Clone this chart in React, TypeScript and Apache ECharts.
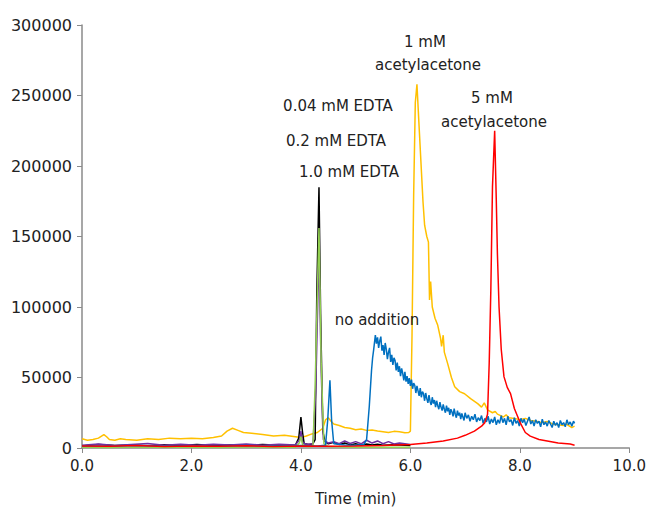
import React, { useEffect, useRef } from "react";
import * as echarts from "echarts";

const xTicks = ["0.0", "2.0", "4.0", "6.0", "8.0", "10.0"];
const yTicks = [0, 50000, 100000, 150000, 200000, 250000, 300000];

const blackTrace: [number, number][] = [
  [0, 1500], [0.3, 2400], [0.6, 1700], [0.9, 2200], [1.2, 1600], [1.5, 2300], [1.8, 1800],
  [2.1, 2500], [2.4, 1700], [2.7, 2200], [3.0, 1800], [3.3, 2400], [3.6, 1900], [3.9, 2100],
  [3.96, 7000], [4.0, 22000], [4.03, 11000], [4.06, 3000], [4.15, 2500], [4.22, 3000],
  [4.26, 6000], [4.29, 110000], [4.33, 185000], [4.36, 95000], [4.4, 12000], [4.44, 4500],
  [4.5, 3000], [4.6, 4000], [4.7, 2500], [4.8, 3500], [4.9, 2200], [5.0, 3000], [5.1, 2000],
  [5.2, 2800], [5.3, 2100], [5.4, 2600], [5.5, 1900], [5.7, 2300], [6.0, 1800],
];

const purpleTrace: [number, number][] = [
  [0, 2000], [0.3, 2800], [0.6, 1800], [0.9, 2500], [1.2, 3200], [1.5, 2000], [1.8, 2600],
  [2.1, 1900], [2.4, 2700], [2.7, 2100], [3.0, 2900], [3.3, 2000], [3.6, 2600], [3.9, 2200],
  [3.98, 6000], [4.0, 12000], [4.03, 4000], [4.1, 2500], [4.22, 3000], [4.27, 40000],
  [4.33, 140000], [4.37, 55000], [4.41, 6000], [4.5, 3500], [4.6, 4500], [4.7, 3000],
  [4.8, 5000], [4.9, 3200], [5.0, 4500], [5.1, 3000], [5.2, 5500], [5.3, 3500], [5.4, 5000],
  [5.5, 3000], [5.6, 4500], [5.7, 2800], [5.8, 3500], [6.0, 2500],
];

const greenTrace: [number, number][] = [
  [0, 600], [0.5, 400], [1.0, 700], [1.5, 500], [2.0, 600], [2.5, 400], [3.0, 700],
  [3.5, 500], [3.9, 600], [3.97, 3500], [4.0, 8000], [4.03, 2500], [4.1, 800], [4.22, 1000],
  [4.26, 45000], [4.33, 156000], [4.37, 60000], [4.42, 3000], [4.5, 1000], [4.7, 800],
  [5.0, 600], [5.5, 500], [6.0, 600],
];

const yellowTrace: [number, number][] = [
  [0.0, 6500], [0.1, 5500], [0.2, 6000], [0.3, 7000], [0.4, 9500], [0.45, 8000], [0.5, 6000],
  [0.6, 5500], [0.7, 6500], [0.8, 6000], [1.0, 5500], [1.2, 6500], [1.4, 6000], [1.6, 7000],
  [1.8, 6500], [2.0, 7000], [2.2, 6500], [2.4, 7500], [2.55, 8500], [2.65, 12000],
  [2.75, 14000], [2.85, 12500], [2.95, 11000], [3.1, 10500], [3.3, 9500], [3.5, 8500],
  [3.7, 9000], [3.9, 8000], [4.0, 7500], [4.1, 8500], [4.2, 10000], [4.3, 11000],
  [4.4, 14000], [4.45, 20000], [4.5, 21500], [4.55, 19000], [4.6, 17000], [4.7, 16000],
  [4.8, 14500], [4.9, 14000], [5.0, 13000], [5.1, 13500], [5.2, 12500], [5.3, 12800],
  [5.4, 12000], [5.5, 11500], [5.6, 11000], [5.7, 11800], [5.8, 11500], [5.9, 10800],
  [5.97, 11000], [6.0, 12000], [6.03, 80000], [6.06, 180000], [6.09, 245000], [6.12, 258000],
  [6.15, 235000], [6.19, 205000], [6.23, 175000], [6.26, 158000], [6.3, 150000],
  [6.33, 146000], [6.35, 105000], [6.37, 118000], [6.4, 100000], [6.45, 92000],
  [6.5, 87000], [6.55, 78000], [6.57, 72000], [6.6, 80000], [6.62, 68000], [6.68, 60000],
  [6.75, 50000], [6.81, 43500], [6.9, 40000], [6.99, 38500], [7.1, 35000], [7.23, 31500],
  [7.3, 29000], [7.35, 32000], [7.41, 27000], [7.5, 25000], [7.55, 26000], [7.59, 24000],
  [7.65, 23000], [7.7, 22000], [7.75, 23500], [7.8, 21500], [7.9, 21000], [8.0, 20000],
  [8.1, 21000], [8.2, 19500], [8.3, 19000], [8.4, 18000], [8.5, 18800], [8.6, 17000],
  [8.7, 16500], [8.8, 16000], [8.85, 17000], [8.95, 14500], [9.0, 15500],
];

const blueTrace: [number, number][] = [
  [0, 1500], [0.5, 1200], [1.0, 1700], [1.5, 1300], [2.0, 1600], [2.5, 1200], [3.0, 1700],
  [3.5, 1400], [4.0, 1800], [4.3, 1500], [4.45, 2000], [4.49, 20000], [4.53, 48000],
  [4.56, 20000], [4.6, 3000], [4.8, 2200], [5.0, 2000], [5.15, 2500], [5.2, 6000],
  [5.25, 30000], [5.29, 55000], [5.31, 64000],
  [5.33, 70000], [5.36, 80000], [5.38, 74000], [5.4, 78500], [5.42, 71000], [5.44, 76000],
  [5.46, 79000], [5.48, 69000], [5.5, 73000], [5.52, 66000], [5.54, 74500], [5.56, 70000],
  [5.58, 63000], [5.6, 68000], [5.62, 71000], [5.64, 61000], [5.66, 66000], [5.68, 59000],
  [5.7, 64000], [5.72, 62000], [5.74, 55000], [5.76, 60500], [5.78, 54000], [5.8, 58000],
  [5.82, 51000], [5.84, 56500], [5.86, 53000], [5.88, 48000], [5.9, 54000], [5.92, 47000],
  [5.94, 51000], [5.96, 45500], [5.98, 49500], [6.0, 44000], [6.02, 48500], [6.04, 42000],
  [6.06, 46000], [6.08, 44500], [6.1, 39000], [6.12, 44000], [6.14, 40500], [6.16, 37000],
  [6.18, 42500], [6.2, 36000], [6.22, 40000], [6.24, 38500], [6.26, 33500], [6.28, 39000],
  [6.3, 35000], [6.32, 32000], [6.34, 37500], [6.36, 33000], [6.38, 30500], [6.4, 36000],
  [6.42, 31500], [6.44, 34000], [6.46, 29000], [6.48, 33500], [6.5, 30000], [6.52, 27500],
  [6.54, 32500], [6.56, 29000], [6.58, 26500], [6.6, 31000], [6.62, 27500], [6.64, 25000],
  [6.66, 30000], [6.68, 26000], [6.7, 28500], [6.72, 23500], [6.74, 27500], [6.76, 25500],
  [6.78, 22500], [6.8, 28000], [6.82, 24000], [6.84, 21500], [6.86, 26500], [6.88, 23000],
  [6.9, 25000], [6.92, 20500], [6.94, 24500], [6.96, 22000], [6.98, 19500], [7.0, 25000],
  [7.03, 21000], [7.06, 23500], [7.09, 19000], [7.12, 22500], [7.15, 20000], [7.18, 24000],
  [7.21, 18500], [7.24, 21500], [7.27, 19500], [7.3, 23000], [7.33, 17500], [7.36, 21000],
  [7.39, 18500], [7.42, 22500], [7.45, 17000], [7.48, 20500], [7.51, 18000], [7.54, 22000],
  [7.57, 16500], [7.6, 20000], [7.63, 17500], [7.66, 23000], [7.69, 18000], [7.72, 21000],
  [7.75, 16500], [7.78, 22500], [7.81, 18500], [7.84, 20000], [7.87, 16000], [7.9, 21500],
  [7.93, 17500], [7.96, 19500], [7.99, 15500], [8.02, 21000], [8.05, 18000], [8.08, 20500],
  [8.11, 16000], [8.14, 19000], [8.17, 22000], [8.2, 17000], [8.23, 19500], [8.26, 15500],
  [8.29, 20000], [8.32, 17500], [8.35, 19000], [8.38, 15000], [8.41, 20500], [8.44, 16500],
  [8.47, 18500], [8.5, 15500], [8.53, 19500], [8.56, 17000], [8.59, 14500], [8.62, 19000],
  [8.65, 16000], [8.68, 18000], [8.71, 14500], [8.74, 19500], [8.77, 16500], [8.8, 18000],
  [8.83, 15000], [8.86, 20000], [8.89, 16500], [8.92, 18500], [8.95, 15500], [8.98, 19000],
  [9.0, 17500],
];

const redTrace: [number, number][] = [
  [0, 1500], [0.5, 1200], [1.0, 1800], [1.5, 1000], [2.0, 1500], [2.5, 1200], [3.0, 1600],
  [3.5, 1100], [4.0, 1500], [4.5, 1300], [5.0, 1500], [5.5, 1800], [6.0, 2500], [6.3, 3500],
  [6.6, 5000], [6.86, 7000], [7.0, 9000], [7.17, 12000], [7.3, 15500], [7.36, 18000],
  [7.41, 24000], [7.44, 60000], [7.47, 112000], [7.5, 185000], [7.54, 225000],
  [7.57, 175000], [7.59, 138000], [7.62, 100000], [7.66, 70000], [7.71, 50600],
  [7.77, 43000], [7.83, 38600], [7.9, 28000], [8.01, 17600], [8.1, 11000], [8.19, 8400],
  [8.35, 6000], [8.5, 5000], [8.7, 3500], [8.92, 2800], [9.0, 2000],
];

const annotations = [
  { text: "1 mM", x: 425, y: 42 },
  { text: "acetylacetone", x: 428, y: 65 },
  { text: "0.04 mM EDTA", x: 338, y: 106 },
  { text: "0.2 mM EDTA", x: 336, y: 141 },
  { text: "1.0 mM EDTA", x: 349, y: 172 },
  { text: "5 mM", x: 492, y: 98 },
  { text: "acetylacetone", x: 494, y: 122 },
  { text: "no addition", x: 377, y: 320 },
];

const FONT = "DejaVu Sans";

export default function App() {
  const ref = useRef<HTMLDivElement>(null);
  useEffect(() => {
    if (!ref.current) return;
    const chart = echarts.init(ref.current, undefined, { renderer: "svg" });
    const line = (data: [number, number][], color: string, z: number) => ({
      type: "line",
      data,
      showSymbol: false,
      symbol: "none",
      z,
      lineStyle: { color, width: 1.5 },
    });
    chart.setOption({
      animation: false,
      backgroundColor: "#ffffff",
      grid: { left: 82, right: 17, top: 25, bottom: 60, containLabel: false },
      xAxis: {
        type: "value",
        min: 0,
        max: 10,
        interval: 2,
        name: "Time (min)",
        nameLocation: "middle",
        nameGap: 43,
        nameTextStyle: { fontFamily: FONT, fontSize: 15, color: "#222" },
        axisLine: { show: true, lineStyle: { color: "#8a8a8a", width: 1.5 } },
        axisTick: { show: true, length: 5, inside: false, lineStyle: { color: "#8a8a8a" } },
        splitLine: { show: false },
        axisLabel: {
          margin: 10,
          fontFamily: FONT,
          fontSize: 15,
          color: "#222",
          formatter: (v: number) => xTicks[Math.round(v / 2)] ?? "",
        },
      },
      yAxis: {
        type: "value",
        min: yTicks[0],
        max: yTicks[yTicks.length - 1],
        interval: 50000,
        axisLine: { show: true, lineStyle: { color: "#8a8a8a", width: 1.5 } },
        axisTick: { show: true, length: 5, inside: false, lineStyle: { color: "#8a8a8a" } },
        splitLine: { show: false },
        axisLabel: {
          margin: 10,
          fontFamily: FONT,
          fontSize: 16,
          color: "#222",
          formatter: (v: number) => String(v),
        },
      },
      series: [
        line(yellowTrace, "#FFC000", 2),
        line(blackTrace, "#000000", 3),
        line(purpleTrace, "#7030A0", 4),
        line(greenTrace, "#92D050", 5),
        line(blueTrace, "#0070C0", 6),
        line(redTrace, "#FF0000", 7),
      ],
      graphic: annotations.map((a) => ({
        type: "text",
        x: a.x,
        y: a.y,
        z: 100,
        style: {
          text: a.text,
          fontFamily: FONT,
          fontSize: 15,
          fill: "#222",
          textAlign: "center",
          textVerticalAlign: "middle",
        },
      })),
    });
    return () => chart.dispose();
  }, []);
  return (
    <div
      ref={ref}
      style={{ position: "fixed", left: 0, top: 0, width: 649, height: 511, background: "#fff" }}
    />
  );
}
